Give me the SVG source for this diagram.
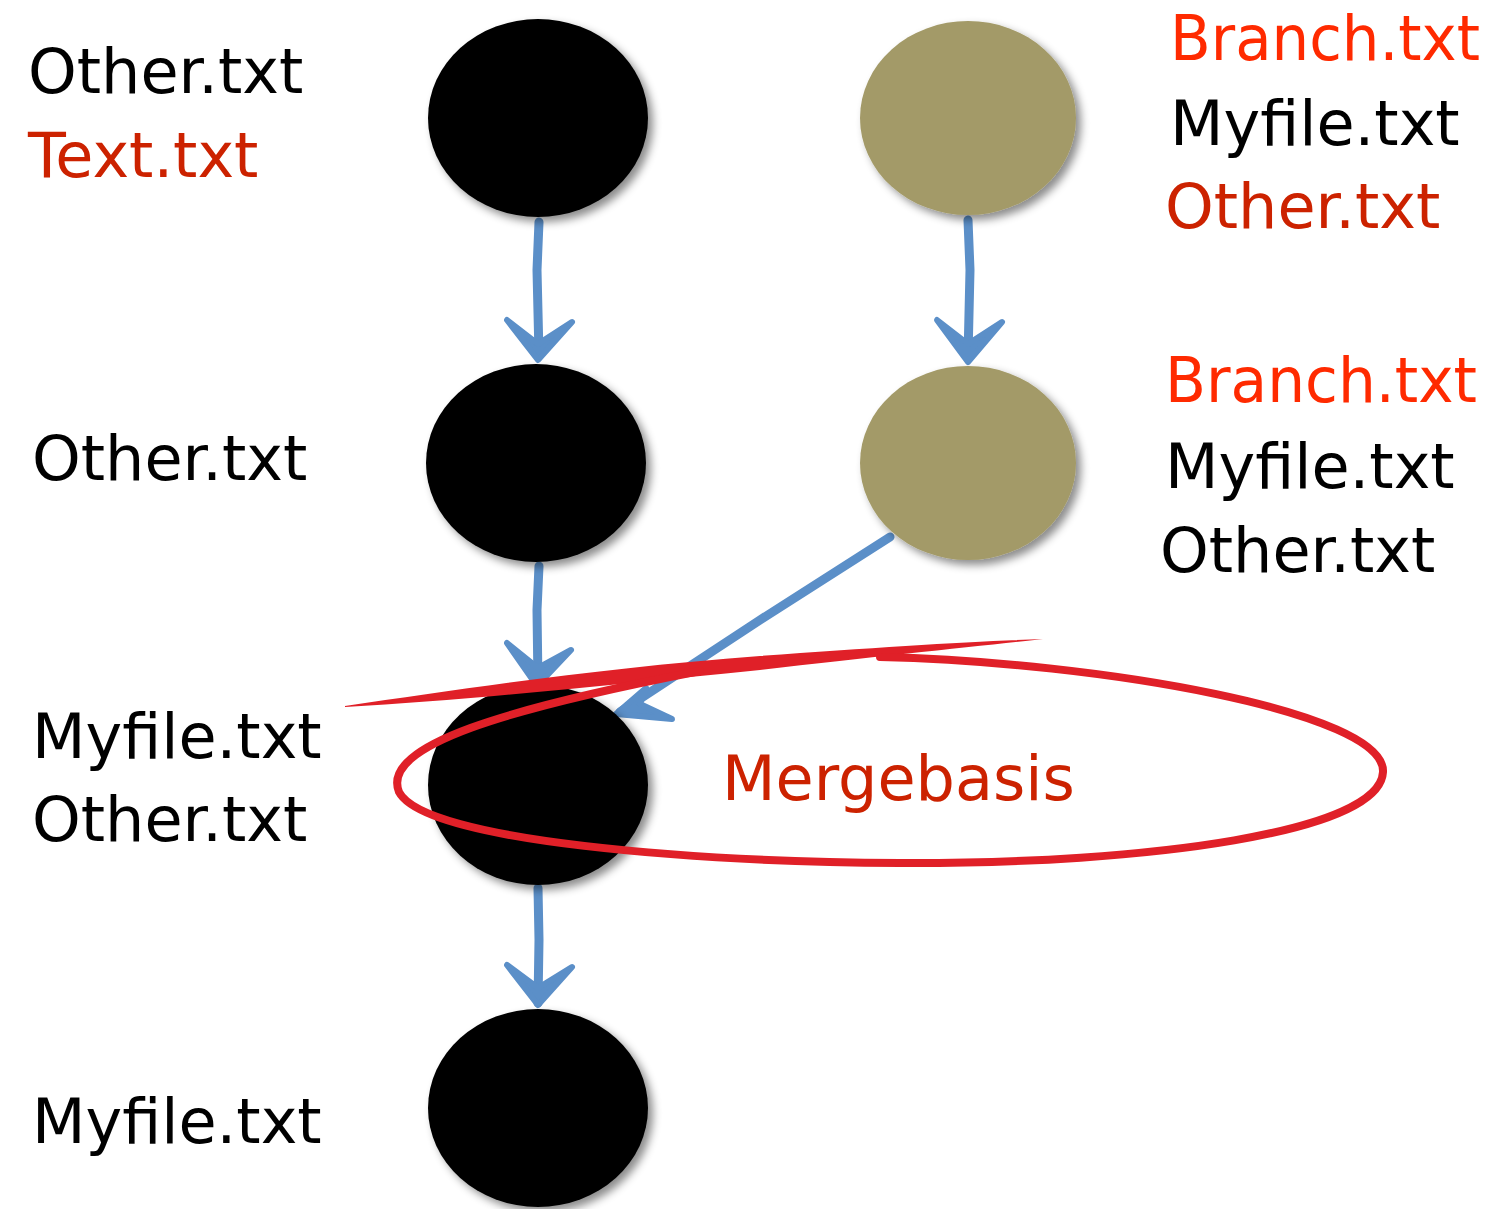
<svg xmlns="http://www.w3.org/2000/svg" width="1503" height="1209" viewBox="0 0 1503 1209">
<defs>
<filter id="sh" x="-20%" y="-20%" width="150%" height="150%">
<feDropShadow dx="5" dy="5" stdDeviation="4" flood-color="#000" flood-opacity="0.45"/>
</filter>
</defs>
<style>
.commit{fill:#000;filter:url(#sh)}
.branch{fill:#a39a68;filter:url(#sh)}
text{font-family:"DejaVu Sans","Open Sans",sans-serif;font-size:62px}
.k{fill:#000}
.r{fill:#cc2200}
.rb{fill:#ff2a00}
.edge{fill:none;stroke:#5b8fc8;stroke-width:9;stroke-linecap:round;stroke-linejoin:round}
.head{fill:#5b8fc8;stroke:#5b8fc8;stroke-width:6;stroke-linejoin:round;stroke-linecap:round}
.mark{fill:none;stroke:#e02028;stroke-linecap:round}
</style>
<rect width="1503" height="1209" fill="#fff"/>
<g id="connectors">
<path class="edge" d="M539,222 L537,270 L539,355"/>
<path class="head" d="M507,320 L538,360 L572,322 L538,344 Z"/>
<path class="edge" d="M539,566 L537,610 L538,684"/>
<path class="head" d="M507,643 L537,686 L571,650 L538,668 Z"/>
<path class="edge" d="M538,888 L539,940 L538,1003"/>
<path class="head" d="M507,965 L538,1005 L572,967 L538,988 Z"/>
<path class="edge" d="M968,220 L970,270 L968,357"/>
<path class="head" d="M937,320 L968,362 L1002,322 L968,344 Z"/>
<path class="edge" d="M890,537 L760,620 L620,712"/>
<path class="head" d="M646,688 L616,714 L672,719 L640,704 Z"/>
</g>
<g id="n1">
<ellipse class="commit" cx="538" cy="118" rx="110" ry="99"/>
<text class="k" x="28" y="93">Other.txt</text>
<text class="r" x="28" y="177">Text.txt</text>
</g>
<g id="n2">
<ellipse class="commit" cx="536" cy="463" rx="110" ry="99"/>
<text class="k" x="32" y="480">Other.txt</text>
</g>
<g id="n3">
<ellipse class="commit" cx="538" cy="785" rx="110" ry="100"/>
<text class="k" x="32" y="758">Myfile.txt</text>
<text class="k" x="32" y="841">Other.txt</text>
</g>
<g id="n4">
<ellipse class="commit" cx="538" cy="1108" rx="110" ry="99"/>
<text class="k" x="32" y="1143">Myfile.txt</text>
</g>
<g id="b1">
<ellipse class="branch" cx="968" cy="118" rx="108" ry="97"/>
<text class="rb" x="1170" y="60" textLength="310" lengthAdjust="spacingAndGlyphs">Branch.txt</text>
<text class="k" x="1170" y="145">Myfile.txt</text>
<text class="r" x="1165" y="228">Other.txt</text>
</g>
<g id="b2">
<ellipse class="branch" cx="968" cy="463" rx="108" ry="97"/>
<text class="rb" x="1165" y="402" textLength="312" lengthAdjust="spacingAndGlyphs">Branch.txt</text>
<text class="k" x="1165" y="488">Myfile.txt</text>
<text class="k" x="1160" y="572">Other.txt</text>
</g>
<g id="mergebase">
<path fill="#e02028" d="M345,706 C470,688 600,668 760,656 C880,647 980,641 1043,639 C980,646 880,656 760,670 C600,686 470,700 345,707 Z"/>
<path class="mark" stroke-width="8" d="M880,657 C1100,662 1386,712 1383,772 C1380,832 1150,864 900,863 C700,862 425,842 399,792 C380,745 510,708 700,671"/>
<text class="r" x="722" y="800">Mergebasis</text>
</g>
</svg>
